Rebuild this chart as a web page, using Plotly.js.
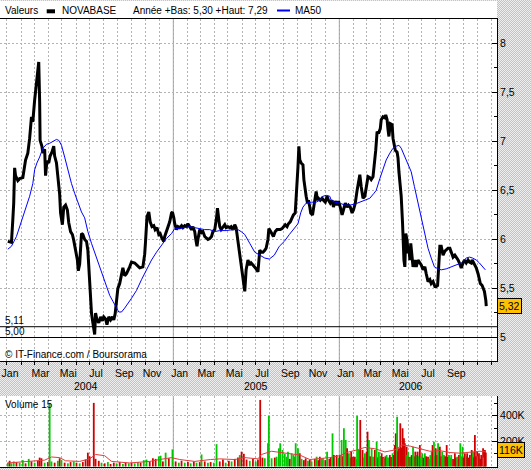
<!DOCTYPE html>
<html><head><meta charset="utf-8">
<script src="https://cdn.plot.ly/plotly-3.0.1.min.js"></script>
<style>
html,body{margin:0;padding:0;}
body{width:531px;height:470px;overflow:hidden;background:repeating-conic-gradient(#c2c2c2 0% 25%, #efefef 0% 50%) 0 0/2px 2px;}
#chart{width:531px;height:470px;}
</style></head><body><div id="chart"></div>
<script>
// ---- data (days since 2004-01-01) ----
const priceDays = [
2,10,13,15,17,19,24,28,35,37,
41,46,50,54,57,61,65,68,70,72,
73,77,79,83,85,88,92,95,99,103,
105,109,112,116,118,122,125,129,133,136,
140,144,147,151,155,157,160,164,167,171,
175,178,180,183,186,189,193,195,198,202,
206,210,213,217,220,224,228,232,235,238,
241,244,248,252,255,259,263,270,274,281,
285,292,299,303,305,308,312,315,319,323,
326,330,334,337,341,345,347,351,354,358,
362,364,367,369,373,376,380,384,387,391,
395,398,402,406,409,413,415,418,420,424,
428,431,435,439,442,446,450,453,457,461,
463,466,468,471,475,479,482,486,490,493,
497,501,504,508,512,515,519,523,526,530,
534,537,541,545,548,552,553,556,559,563,
567,570,574,576,580,583,586,590,594,597,
601,605,608,612,616,619,623,627,630,634,
636,639,640,642,644,647,651,653,656,658,
661,663,666,668,672,674,678,680,683,685,
689,693,696,700,704,707,711,715,718,722,
726,729,733,737,740,744,748,751,755,759,
762,766,770,773,776,779,783,787,790,794,
798,801,805,807,809,811,814,817,821,823,
827,831,833,836,838,840,843,847,849,851,
854,858,860,862,865,867,870,871,873,875,
877,880,882,884,886,888,891,893,897,900,
904,908,911,915,919,922,926,930,933,937,
941,944,947,949,952,955,959,963,966,970,
974,977,981,985,988,992,995,999,1003,1006,
1010,1014,1017,1021,1023,1026,1029,1032,1036,1038,
1041,1045,1048,1050,1053,1054];
const priceVals = [
5.98,5.97,6.20,6.37,6.73,6.65,6.60,6.62,6.63,6.71,
6.81,6.88,7.03,7.25,7.20,7.42,7.62,7.70,7.81,7.40,
7.01,6.95,6.88,6.92,6.65,6.80,6.78,6.85,6.89,6.95,
6.85,6.78,6.64,6.46,6.27,6.15,6.33,6.35,6.30,6.17,
6.08,6.05,5.99,5.89,5.79,5.68,5.75,6.06,6.05,6.00,
5.98,5.89,5.72,5.48,5.25,5.15,5.03,5.25,5.18,5.15,
5.21,5.17,5.21,5.19,5.13,5.21,5.18,5.21,5.18,5.24,
5.42,5.50,5.55,5.66,5.71,5.63,5.65,5.72,5.77,5.76,
5.74,5.71,5.72,5.85,5.99,6.23,6.28,6.18,6.13,6.14,
6.10,6.12,6.05,6.06,6.01,5.98,6.03,6.08,6.13,6.18,
6.27,6.28,6.22,6.16,6.10,6.13,6.12,6.14,6.12,6.14,
6.13,6.16,6.13,6.10,6.13,6.08,6.01,5.93,6.00,6.10,
6.07,6.08,6.03,6.01,6.00,6.01,6.03,6.08,6.10,6.22,
6.32,6.20,6.13,6.10,6.13,6.15,6.12,6.13,6.12,6.13,
6.10,6.15,6.12,5.98,5.87,5.71,5.59,5.47,5.69,5.79,
5.74,5.76,5.74,5.72,5.70,5.67,5.72,5.89,5.87,5.87,
5.89,5.91,6.00,6.11,6.08,6.06,6.03,6.08,6.10,6.10,
6.10,6.11,6.13,6.15,6.13,6.16,6.18,6.23,6.25,6.27,
6.40,6.61,6.74,6.95,6.81,6.78,6.76,6.61,6.47,6.44,
6.37,6.40,6.33,6.27,6.25,6.30,6.44,6.49,6.40,6.42,
6.40,6.42,6.40,6.38,6.44,6.40,6.37,6.40,6.33,6.39,
6.35,6.39,6.33,6.25,6.30,6.37,6.33,6.35,6.33,6.27,
6.30,6.37,6.50,6.61,6.66,6.54,6.42,6.44,6.54,6.64,
6.63,6.61,6.64,6.72,6.79,6.91,7.10,7.08,7.13,7.22,
7.25,7.24,7.27,7.22,7.12,7.05,7.18,7.17,7.03,6.96,
6.91,6.89,6.83,6.69,6.54,6.44,6.16,5.96,5.79,5.72,
6.06,5.99,5.86,5.92,5.79,5.96,5.82,5.72,5.79,5.72,
5.79,5.76,5.74,5.69,5.72,5.65,5.57,5.59,5.55,5.57,
5.52,5.52,5.53,5.69,5.93,5.93,5.84,5.88,5.89,5.91,
5.91,5.86,5.82,5.84,5.82,5.79,5.76,5.71,5.76,5.79,
5.76,5.79,5.77,5.76,5.79,5.76,5.74,5.71,5.65,5.59,
5.55,5.53,5.50,5.47,5.38,5.32];

const maDays = [
2,10,21,28,35,43,50,57,61,66,
72,79,87,94,101,109,114,120,127,134,
142,149,156,164,171,178,186,197,204,211,
219,226,233,241,246,252,259,274,285,296,
307,318,329,340,351,362,369,380,391,402,
413,424,435,446,457,468,482,497,508,515,
523,534,545,556,567,577,588,599,610,621,
632,640,646,651,658,669,680,688,695,702,
710,713,721,732,743,754,765,776,787,798,
807,812,820,827,834,842,849,856,862,867,
875,882,889,896,904,911,919,926,933,940,
948,955,966,977,988,999,1010,1017,1024,1032,
1039,1046,1052];
const maVals = [
5.90,5.93,6.03,6.13,6.23,6.33,6.44,6.57,6.71,6.78,
6.84,6.93,6.97,6.98,7.00,7.02,7.01,6.96,6.84,6.71,
6.57,6.47,6.38,6.28,6.22,6.08,5.96,5.82,5.72,5.62,
5.52,5.43,5.37,5.30,5.26,5.26,5.30,5.40,5.48,5.59,
5.69,5.79,5.87,5.94,6.01,6.06,6.11,6.11,6.12,6.13,
6.12,6.11,6.10,6.10,6.08,6.09,6.09,6.10,6.10,6.08,
6.05,5.96,5.87,5.84,5.81,5.80,5.84,5.93,5.98,6.05,
6.11,6.16,6.27,6.33,6.37,6.38,6.38,6.40,6.44,6.45,
6.44,6.40,6.38,6.37,6.35,6.35,6.36,6.38,6.40,6.42,
6.47,6.50,6.62,6.72,6.81,6.88,6.93,6.95,6.96,6.93,
6.84,6.78,6.69,6.54,6.37,6.22,6.03,5.91,5.81,5.72,
5.70,5.69,5.70,5.72,5.74,5.76,5.81,5.82,5.81,5.79,
5.76,5.72,5.69];

// volume (thousands of shares); 1 = up day (green), 0 = down day (red)
const volDays = [
2,6,10,15,21,28,35,41,48,54,
61,68,72,76,83,90,94,98,105,112,
116,120,127,134,140,147,153,160,167,173,
178,182,191,195,202,208,215,222,228,235,
241,248,255,261,268,274,281,288,294,301,
307,314,321,327,334,338,343,349,356,364,
371,378,384,391,398,404,411,417,424,428,
435,442,448,455,461,468,475,481,488,494,
501,508,512,516,521,527,534,541,547,552,
557,562,567,574,576,582,589,593,598,601,
606,611,615,618,622,626,630,633,635,640,
644,648,653,657,662,666,670,677,681,685,
688,692,695,700,704,709,712,716,719,725,
729,732,736,739,741,745,748,752,755,757,
761,765,768,770,774,777,782,785,787,791,
793,796,799,802,805,809,813,816,818,821,
824,827,829,832,835,838,842,845,848,851,
853,855,858,860,862,865,868,870,873,875,
879,880,882,885,887,890,893,896,898,901,
903,906,908,910,913,916,919,922,926,929,
931,934,936,939,941,943,946,948,950,952,
955,957,959,961,964,967,969,972,975,977,
981,985,987,990,992,994,997,999,1002,1004,
1007,1010,1012,1015,1018,1022,1024,1025,1027,1029,
1031,1034,1036,1038,1041,1043,1047,1049,1051,1053];
const volVals = [
30,45,25,40,35,30,50,25,60,40,
30,45,70,65,30,35,496,40,30,45,
65,50,30,25,35,40,30,25,35,55,
109,80,501,60,45,30,25,35,20,30,
25,35,20,30,25,30,25,35,30,50,
55,40,65,60,80,85,40,109,65,135,
40,30,45,30,35,25,40,30,35,95,
40,30,35,30,176,40,55,30,45,40,
60,70,90,117,100,55,45,60,40,55,
524,70,65,183,398,65,70,77,143,183,
130,100,77,117,60,104,90,77,183,143,
104,60,50,64,45,55,40,60,77,50,
77,60,64,50,117,60,75,261,91,91,
70,91,209,80,301,209,143,104,70,117,
77,77,60,398,130,366,130,70,104,117,
274,209,80,143,77,130,195,70,117,80,
104,75,64,80,91,70,91,75,104,90,
169,261,392,120,143,340,150,301,222,183,
156,90,117,75,77,90,156,80,117,90,
117,80,169,75,104,70,104,80,77,60,
90,117,169,195,80,143,90,183,70,156,
80,117,70,91,80,169,75,91,70,91,
60,104,70,77,60,91,183,80,156,70,
104,80,104,70,91,130,80,117,70,248,
80,117,80,104,60,91,143,70,130,110];
const volUp = [
1,0,1,1,0,1,1,0,1,0,
1,0,0,0,1,0,1,1,0,1,
0,1,0,1,0,1,0,1,0,0,
0,0,0,0,0,1,0,1,0,0,
1,0,1,0,1,0,1,1,0,1,
1,0,0,0,1,1,0,1,0,1,
0,1,0,1,0,1,0,1,0,1,
0,1,0,1,1,0,0,1,0,1,
0,0,1,0,0,0,1,0,1,0,
0,0,1,1,1,1,0,1,1,1,
1,1,1,1,0,1,1,1,1,1,
0,1,0,0,1,0,1,0,1,0,
0,1,1,0,1,0,0,1,0,0,
1,0,1,0,1,1,0,1,1,0,
0,0,1,1,1,0,0,1,1,0,
0,1,0,1,1,0,1,0,1,1,
0,0,1,0,1,1,0,0,1,0,
0,0,1,0,0,0,0,0,0,0,
0,1,1,0,1,0,1,1,0,1,
0,1,0,1,1,0,1,0,0,1,
1,1,0,1,1,0,0,1,1,0,
0,1,1,1,0,0,0,1,1,1,
0,0,0,1,1,0,1,1,1,0,
0,1,0,0,0,0,1,1,0,0,
0,0,1,0,0,0,0,1,0,0];

const vmaDays = [
2,28,61,83,98,116,129,160,182,195,
215,230,270,314,336,362,380,413,448,468,
501,523,552,560,582,600,622,644,666,688,
710,732,747,769,787,809,831,853,869,887,
908,930,952,974,996,1018,1040,1053];
const vmaVals = [
28,35,45,50,75,70,45,40,60,95,
85,40,28,40,55,70,55,40,55,60,
55,70,60,95,120,110,100,90,55,60,
70,85,110,130,150,140,115,130,170,160,
140,120,125,110,105,115,120,116];

// axis labels
const xTickVals = ['2004-01-08','2004-03-15','2004-05-15','2004-07-15','2004-09-15','2004-11-15',
 '2005-01-15','2005-03-15','2005-05-15','2005-07-15','2005-09-15','2005-11-15',
 '2006-01-15','2006-03-15','2006-05-15','2006-07-15','2006-09-15'];
const xTickText = ['Jan','Mar','Mai','Jul','Sep','Nov','Jan','Mar','Mai','Jul','Sep','Nov',
 'Jan','Mar','Mai','Jul','Sep'];
const yearLabels = ['2004','2005','2006'];
const yearLabelPos = ['2004-06-24','2005-07-02','2006-06-08'];
const yearLines = ['2005-01-01','2006-01-01'];
const priceTickVals = [5,5.5,6,6.5,7,7.5,8];
const priceTickText = ['5','5,5','6','6,5','7','7,5','8'];
const priceMinorVals = [5.25,5.75,6.25,6.75,7.25,7.75];
const volTickVals = [200,400];
const volTickText = ['200K','400K'];
const volMinorVals = [100,300,500];
const supportLevels = [5.11, 5.00];
const supportText = ['5,11','5,00'];
const lastPrice = 5.32, lastPriceText = '5,32';
const lastVolMA = 116, lastVolMAText = '116K';

// ---- geometry ----
const W = 531, H = 470;
const PX_PER_DAY = 166/365, JAN1_PX = 6.9;
const D0 = Date.UTC(2004,0,1);
function dayToDate(d){ return new Date(D0 + Math.round(d*864e5)).toISOString().replace('T',' ').slice(0,19); }
function pxToDate(p){ return dayToDate((p - JAN1_PX)/PX_PER_DAY); }
const px = v => v/W, py = v => 1 - v/H;
const xRange = [pxToDate(0), pxToDate(497)];
const P_PX = 98.07, P5_Y = 337.5;
const yRange = [5 - (361-P5_Y)/P_PX, 5 + (P5_Y-19)/P_PX];
const V_PX = 0.127, V0_Y = 466.5;
const vRange = [-(467-V0_Y)/V_PX, (V0_Y-396)/V_PX];
const xDom = [0, px(497)];
const GRID = '#b4b4b4', DASH = '2px,2px';
const FONT = 'Liberation Sans, Arial, sans-serif';
const TICKFONT = {family:FONT, size:10.5, color:'#000'};

const traces = [
 {type:'bar', x:volDays.map(dayToDate), y:volVals, xaxis:'x2', yaxis:'y2',
  width:volDays.map(()=>1.8/PX_PER_DAY*864e5),
  marker:{color:volUp.map(u=>u?'#00c800':'#d00000'), line:{width:0}}, hoverinfo:'skip'},
 {type:'scatter', mode:'lines', x:vmaDays.map(dayToDate), y:vmaVals, xaxis:'x2', yaxis:'y2',
  line:{color:'#e03c3c', width:1}, hoverinfo:'skip'},
 {type:'scatter', mode:'lines', x:priceDays.map(dayToDate), y:priceVals, xaxis:'x', yaxis:'y',
  line:{color:'#000000', width:3}, hoverinfo:'skip'},
 {type:'scatter', mode:'lines', x:maDays.map(dayToDate), y:maVals, xaxis:'x', yaxis:'y',
  line:{color:'#0000ff', width:1}, hoverinfo:'skip'},
 {type:'scatter', mode:'markers', x:[dayToDate(priceDays[0])], y:[priceVals[0]], xaxis:'x3', yaxis:'y',
  marker:{opacity:0}, hoverinfo:'skip'}
];

const shapes = [
 {type:'rect', xref:'paper', yref:'paper', x0:0, x1:px(497), y0:py(18), y1:py(1), fillcolor:'#ffffff', line:{width:0}, layer:'below'},
 {type:'rect', xref:'paper', yref:'paper', x0:px(46.7), x1:px(55), y0:py(13.3), y1:py(9.3), fillcolor:'#000', line:{width:0}},
 {type:'line', xref:'paper', yref:'paper', x0:px(277), x1:px(290), y0:py(10.5), y1:py(10.5), line:{color:'#0000ff', width:2}}
];
yearLines.forEach(d=>{
 shapes.push({type:'line', xref:'x', yref:'paper', x0:d, x1:d, y0:py(361), y1:py(19), line:{color:'#999999', width:1}, layer:'between'});
 shapes.push({type:'line', xref:'x2', yref:'paper', x0:d, x1:d, y0:py(467), y1:py(396), line:{color:'#999999', width:1}, layer:'between'});
});
supportLevels.forEach(v=>{
 shapes.push({type:'line', xref:'paper', yref:'y', x0:0, x1:px(497), y0:v, y1:v, line:{color:'#000', width:1}});
});

const ann = (o)=>Object.assign({showarrow:false, font:{family:FONT, size:10, color:'#000'}}, o);
const annotations = [
 ann({text:'Valeurs', xref:'paper', yref:'paper', x:px(2.5), y:py(10), xanchor:'left', yanchor:'middle'}),
 ann({text:'NOVABASE', xref:'paper', yref:'paper', x:px(59.5), y:py(10), xanchor:'left', yanchor:'middle'}),
 ann({text:'Année +Bas: 5,30 +Haut: 7,29', xref:'paper', yref:'paper', x:px(131), y:py(10), xanchor:'left', yanchor:'middle'}),
 ann({text:'MA50', xref:'paper', yref:'paper', x:px(293), y:py(10), xanchor:'left', yanchor:'middle'}),
 ann({text:'© IT-Finance.com / Boursorama', xref:'paper', yref:'paper', x:px(2.5), y:py(354), xanchor:'left', yanchor:'middle'}),
 ann({text:'Volume 15', xref:'paper', yref:'paper', x:px(2.5), y:py(404), xanchor:'left', yanchor:'middle'}),
 ann({text:lastPriceText, xref:'paper', yref:'y', x:px(497), y:lastPrice, xanchor:'left', yanchor:'middle',
      font:TICKFONT, bgcolor:'#ffc000', bordercolor:'#000', borderwidth:1, borderpad:1}),
 ann({text:lastVolMAText, xref:'paper', yref:'y2', x:px(497), y:lastVolMA, xanchor:'left', yanchor:'middle', yshift:2,
      font:TICKFONT, bgcolor:'#ffc000', bordercolor:'#000', borderwidth:1, borderpad:1})
];
supportLevels.forEach((v,i)=>annotations.push(ann({text:supportText[i], xref:'paper', yref:'y', x:px(2.5), y:v, xanchor:'left', yanchor:'bottom', yshift:-1})));
yearLabels.forEach((t,i)=>annotations.push(ann({text:t, xref:'x', yref:'paper', x:yearLabelPos[i], y:py(386), xanchor:'center', yanchor:'middle', font:TICKFONT})));

const commonX = {type:'date', range:xRange, domain:xDom, zeroline:false, fixedrange:true};
const layout = {
 width:W, height:H, margin:{l:0,r:0,t:0,b:0,pad:0},
 paper_bgcolor:'rgba(0,0,0,0)', plot_bgcolor:'#ffffff',
 showlegend:false, hovermode:false,
 font:{family:FONT, size:10, color:'#000'},
 xaxis: Object.assign({}, commonX, {anchor:'y', tick0:'2004-01-01', dtick:'M1', ticks:'outside', ticklen:3, tickcolor:'#000',
   showticklabels:false, showgrid:true, gridcolor:GRID, griddash:DASH, showline:true, linecolor:'#000', linewidth:1, mirror:true}),
 xaxis3: Object.assign({}, commonX, {overlaying:'x', anchor:'y', side:'bottom', tickmode:'array', tickvals:xTickVals, ticktext:xTickText,
   ticks:'', showgrid:false, showline:false, ticklabelstandoff:4, tickfont:TICKFONT}),
 xaxis2: Object.assign({}, commonX, {anchor:'y2', tick0:'2004-01-01', dtick:'M1', ticks:'', showticklabels:false,
   showgrid:true, gridcolor:GRID, griddash:DASH, showline:true, linecolor:'#000', linewidth:1}),
 yaxis: {domain:[py(361), py(19)], range:yRange, side:'right', anchor:'x', tickmode:'array', tickvals:priceTickVals, ticktext:priceTickText,
   ticks:'inside', ticklen:5, tickcolor:'#000', showgrid:true, gridcolor:GRID, griddash:DASH, showline:true, linecolor:'#000', linewidth:1,
   zeroline:false, fixedrange:true, tickfont:TICKFONT,
   minor:{tickmode:'array', tickvals:priceMinorVals, ticks:'inside', ticklen:3, tickcolor:'#000', showgrid:false}},
 yaxis2: {domain:[py(467), py(396)], range:vRange, side:'right', anchor:'x2', tickmode:'array', tickvals:volTickVals, ticktext:volTickText,
   ticks:'inside', ticklen:5, tickcolor:'#000', showgrid:true, gridcolor:GRID, griddash:DASH, showline:true, linecolor:'#000', linewidth:1,
   zeroline:false, fixedrange:true, tickfont:TICKFONT,
   minor:{tickmode:'array', tickvals:volMinorVals, ticks:'inside', ticklen:3, tickcolor:'#000', showgrid:false}},
 shapes: shapes, annotations: annotations
};
Plotly.newPlot('chart', traces, layout, {staticPlot:true, displayModeBar:false});
</script></body></html>
